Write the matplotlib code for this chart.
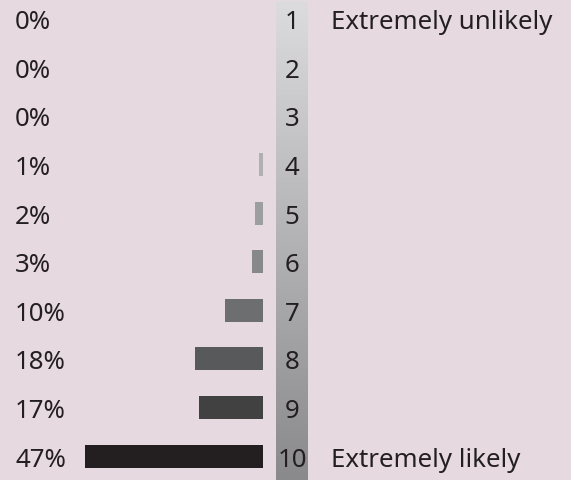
import matplotlib
matplotlib.use("Agg")
import matplotlib.pyplot as plt
import numpy as np
from matplotlib.colors import LinearSegmentedColormap

scores = [1, 2, 3, 4, 5, 6, 7, 8, 9, 10]
percents = [0, 0, 0, 1, 2, 3, 10, 18, 17, 47]
pct_labels = ["0%", "0%", "0%", "1%", "2%", "3%", "10%", "18%", "17%", "47%"]
bar_colors = ["#d0d0d2", "#c4c4c6", "#bcbcbe", "#b0b0b2", "#9d9ea0", "#87888a",
              "#6d6e70", "#58595b", "#414142", "#231f20"]
end_labels = {1: "Extremely unlikely", 10: "Extremely likely"}

bg = "#e6d9df"
txt = "#231f20"
plt.rcParams['font.family'] = ['Noto Sans', 'DejaVu Sans']

fig = plt.figure(figsize=(5.71, 4.81), dpi=100, facecolor=bg)
ax = fig.add_axes([0, 0, 1, 1])
ax.set_facecolor(bg)

pxu = 178 / 47.0
ax.set_xlim(-263 / pxu, (571 - 263) / pxu)
rs = 48.6
ax.set_ylim(1 + (481 - 19.7) / rs, 1 - 19.7 / rs)
ax.axis('off')

# gradient column
grad = np.linspace(0, 1, 256).reshape(-1, 1)
cmap = LinearSegmentedColormap.from_list("g", ["#dcdcde", "#8a8a8c"])
x0 = (276 - 263) / pxu
x1 = (308 - 263) / pxu
ytop = 1 + (2.7 - 19.7) / rs
ybot = 1 + (481 - 19.7) / rs
ax.imshow(grad, cmap=cmap, extent=[x0, x1, ybot, ytop], aspect='auto', zorder=1)

ax.barh(scores, [-p for p in percents], left=0, height=23 / rs,
        color=bar_colors, zorder=2)

fs = 18.6
for s, lab in zip(scores, pct_labels):
    ax.text(-248 / pxu, s, lab, ha='left', va='center_baseline', fontsize=fs, color=txt)
    ax.text((292 - 263) / pxu, s, str(s), ha='center', va='center_baseline', fontsize=fs, color=txt)
    if s in end_labels:
        ax.text((331 - 263) / pxu, s, end_labels[s], ha='left', va='center_baseline',
                fontsize=fs, color=txt)

fig.savefig("out.png", dpi=100, facecolor=bg)
